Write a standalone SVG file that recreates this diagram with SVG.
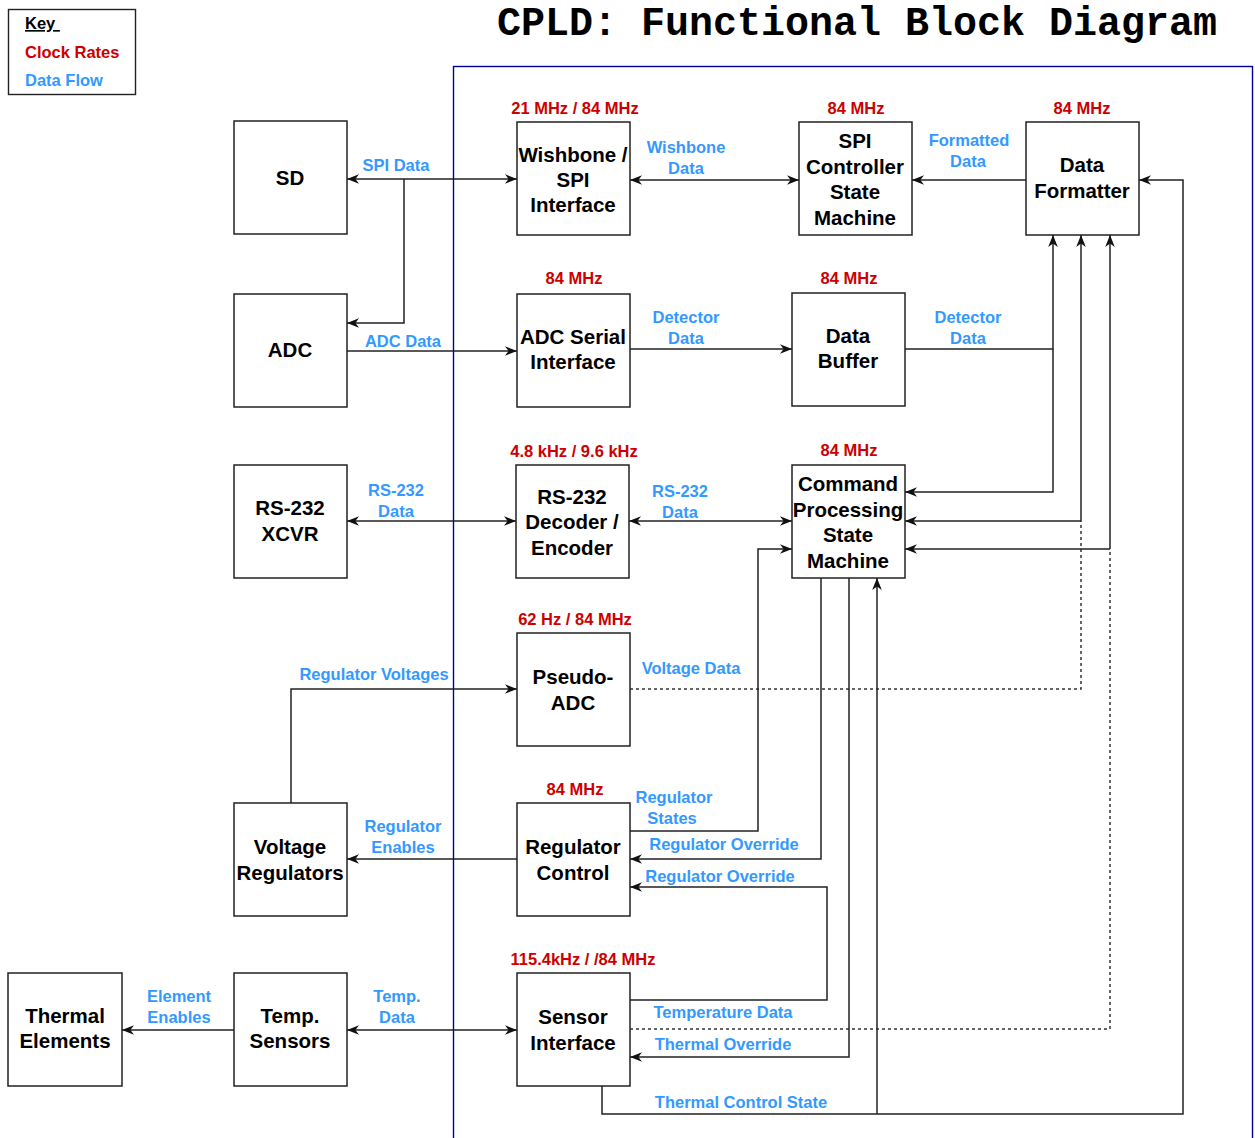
<svg xmlns="http://www.w3.org/2000/svg" width="1255" height="1138" viewBox="0 0 1255 1138">
<style>
.bg{fill:#fff}
.box{fill:#fff;stroke:#222;stroke-width:1.5}
.nt{font-family:"Liberation Sans",Arial,sans-serif;font-weight:bold;font-size:20.5px;fill:#000;text-anchor:middle}
.bl{font-family:"Liberation Sans",Arial,sans-serif;font-weight:bold;font-size:16.5px;fill:#3399FF;text-anchor:middle}
.rd{font-family:"Liberation Sans",Arial,sans-serif;font-weight:bold;font-size:16.5px;fill:#CC0000;text-anchor:middle}
.ln{fill:none;stroke:#222;stroke-width:1.5}
.ds{fill:none;stroke:#333;stroke-width:1.5;stroke-dasharray:3,3}
.ae{marker-end:url(#arr)}
.ab{marker-start:url(#arr);marker-end:url(#arr)}
</style>
<defs>
<marker id="arr" viewBox="0 0 10 10" refX="10" refY="5" markerWidth="12" markerHeight="12" markerUnits="userSpaceOnUse" orient="auto-start-reverse">
<path d="M0,1 L10,5 L0,9 L3,5 Z" fill="#111"/>
</marker>
</defs>
<rect class="bg" x="0" y="0" width="1255" height="1138"/>

<g id="key">
<rect x="8.5" y="9.5" width="127" height="85" fill="#fff" stroke="#222" stroke-width="1.4"/>
<text x="25" y="29" font-family="'Liberation Sans',Arial,sans-serif" font-weight="bold" font-size="16.5" fill="#000" text-decoration="underline" xml:space="preserve">Key </text>
<text x="25" y="58" font-family="'Liberation Sans',Arial,sans-serif" font-weight="bold" font-size="16.5" fill="#CC0000">Clock Rates</text>
<text x="25" y="86" font-family="'Liberation Sans',Arial,sans-serif" font-weight="bold" font-size="16.5" fill="#3399FF">Data Flow</text>
</g>

<text id="title" x="497" y="35" font-family="'Liberation Mono','Courier New',monospace" font-weight="bold" font-size="40" fill="#000">CPLD: Functional Block Diagram</text>

<rect id="cpld" x="453.5" y="66.5" width="799" height="1100" fill="none" stroke="#000099" stroke-width="1.4"/>

<g id="connectors">
<path class="ln ab" d="M347,179 L517,179"/>
<path class="ln ae" d="M404,179 L404,323 L347,323"/>
<path class="ln ae" d="M347,351 L517,351"/>
<path class="ln ab" d="M630,180 L799,180"/>
<path class="ln ae" d="M1026,180 L912,180"/>
<path class="ln ae" d="M630,349 L792,349"/>
<path class="ln ae" d="M905,349 L1053,349 L1053,235"/>
<path class="ln ae" d="M1053,349 L1053,492 L905,492"/>
<path class="ds" d="M630,689 L1081,689 L1081,521"/>
<path class="ln ae" d="M1081,521 L1081,235"/>
<path class="ln ae" d="M1081,521 L905,521"/>
<path class="ds" d="M630,1029 L1110,1029 L1110,549"/>
<path class="ln ae" d="M1110,549 L1110,235"/>
<path class="ln ae" d="M1110,549 L905,549"/>
<path class="ln ab" d="M347,521 L516,521"/>
<path class="ln ab" d="M629,521 L792,521"/>
<path class="ln ae" d="M630,831 L758,831 L758,549 L792,549"/>
<path class="ln ae" d="M821,578 L821,859 L630,859"/>
<path class="ln ae" d="M849,578 L849,1057 L630,1057"/>
<path class="ln ae" d="M630,1000 L827,1000 L827,887 L630,887"/>
<path class="ln ae" d="M602,1086 L602,1114 L1183,1114 L1183,180 L1139,180"/>
<path class="ln ae" d="M877,1114 L877,578"/>
<path class="ln ae" d="M291,803 L291,689 L517,689"/>
<path class="ln ae" d="M517,859 L347,859"/>
<path class="ln ae" d="M234,1030 L122,1030"/>
<path class="ln ab" d="M347,1030 L517,1030"/>

<text class="bl" x="396" y="171">SPI Data</text>
<text class="bl" x="403" y="347">ADC Data</text>
<text class="bl" x="686" y="153">Wishbone</text>
<text class="bl" x="686" y="174">Data</text>
<text class="bl" x="969" y="146">Formatted</text>
<text class="bl" x="968" y="167">Data</text>
<text class="bl" x="686" y="323">Detector</text>
<text class="bl" x="686" y="344">Data</text>
<text class="bl" x="968" y="323">Detector</text>
<text class="bl" x="968" y="344">Data</text>
<text class="bl" x="396" y="496">RS-232</text>
<text class="bl" x="396" y="517">Data</text>
<text class="bl" x="680" y="497">RS-232</text>
<text class="bl" x="680" y="518">Data</text>
<text class="bl" x="691" y="674">Voltage Data</text>
<text class="bl" x="374" y="680">Regulator Voltages</text>
<text class="bl" x="674" y="803">Regulator</text>
<text class="bl" x="672" y="824">States</text>
<text class="bl" x="724" y="850">Regulator Override</text>
<text class="bl" x="720" y="882">Regulator Override</text>
<text class="bl" x="403" y="832">Regulator</text>
<text class="bl" x="403" y="853">Enables</text>
<text class="bl" x="723" y="1018">Temperature Data</text>
<text class="bl" x="723" y="1050">Thermal Override</text>
<text class="bl" x="741" y="1108">Thermal Control State</text>
<text class="bl" x="179" y="1002">Element</text>
<text class="bl" x="179" y="1023">Enables</text>
<text class="bl" x="397" y="1002">Temp.</text>
<text class="bl" x="397" y="1023">Data</text>
</g>

<g id="sd"><rect class="box" x="234" y="121" width="113" height="113"/><text class="nt" x="290" y="185">SD</text></g>
<g id="adc"><rect class="box" x="234" y="294" width="113" height="113"/><text class="nt" x="290" y="357">ADC</text></g>
<g id="rs232xcvr"><rect class="box" x="234" y="465" width="113" height="113"/><text class="nt" x="290" y="515">RS-232</text><text class="nt" x="290" y="541">XCVR</text></g>
<g id="vreg"><rect class="box" x="234" y="803" width="113" height="113"/><text class="nt" x="290" y="854">Voltage</text><text class="nt" x="290" y="880">Regulators</text></g>
<g id="tempsens"><rect class="box" x="234" y="973" width="113" height="113"/><text class="nt" x="290" y="1023">Temp.</text><text class="nt" x="290" y="1048">Sensors</text></g>
<g id="thermal"><rect class="box" x="8" y="973" width="114" height="113"/><text class="nt" x="65" y="1023">Thermal</text><text class="nt" x="65" y="1048">Elements</text></g>

<g id="wishbone"><text class="rd" x="575" y="114">21 MHz / 84 MHz</text><rect class="box" x="517" y="122" width="113" height="113"/><text class="nt" x="573" y="162">Wishbone /</text><text class="nt" x="573" y="187">SPI</text><text class="nt" x="573" y="212">Interface</text></g>
<g id="adcserial"><text class="rd" x="574" y="284">84 MHz</text><rect class="box" x="517" y="294" width="113" height="113"/><text class="nt" x="573" y="344">ADC Serial</text><text class="nt" x="573" y="369">Interface</text></g>
<g id="rs232dec"><text class="rd" x="574" y="457">4.8 kHz / 9.6 kHz</text><rect class="box" x="516" y="465" width="113" height="113"/><text class="nt" x="572" y="504">RS-232</text><text class="nt" x="572" y="529">Decoder /</text><text class="nt" x="572" y="555">Encoder</text></g>
<g id="pseudoadc"><text class="rd" x="575" y="625">62 Hz / 84 MHz</text><rect class="box" x="517" y="633" width="113" height="113"/><text class="nt" x="573" y="684">Pseudo-</text><text class="nt" x="573" y="710">ADC</text></g>
<g id="regctrl"><text class="rd" x="575" y="795">84 MHz</text><rect class="box" x="517" y="803" width="113" height="113"/><text class="nt" x="573" y="854">Regulator</text><text class="nt" x="573" y="880">Control</text></g>
<g id="sensorif"><text class="rd" x="583" y="965">115.4kHz / /84 MHz</text><rect class="box" x="517" y="973" width="113" height="113"/><text class="nt" x="573" y="1024">Sensor</text><text class="nt" x="573" y="1050">Interface</text></g>
<g id="spictrl"><text class="rd" x="856" y="114">84 MHz</text><rect class="box" x="799" y="122" width="113" height="113"/><text class="nt" x="855" y="148">SPI</text><text class="nt" x="855" y="174">Controller</text><text class="nt" x="855" y="199">State</text><text class="nt" x="855" y="225">Machine</text></g>
<g id="databuf"><text class="rd" x="849" y="284">84 MHz</text><rect class="box" x="792" y="293" width="113" height="113"/><text class="nt" x="848" y="343">Data</text><text class="nt" x="848" y="368">Buffer</text></g>
<g id="cmdproc"><text class="rd" x="849" y="456">84 MHz</text><rect class="box" x="792" y="465" width="113" height="113"/><text class="nt" x="848" y="491">Command</text><text class="nt" x="848" y="517">Processing</text><text class="nt" x="848" y="542">State</text><text class="nt" x="848" y="568">Machine</text></g>
<g id="formatter"><text class="rd" x="1082" y="114">84 MHz</text><rect class="box" x="1026" y="122" width="113" height="113"/><text class="nt" x="1082" y="172">Data</text><text class="nt" x="1082" y="198">Formatter</text></g>
</svg>
